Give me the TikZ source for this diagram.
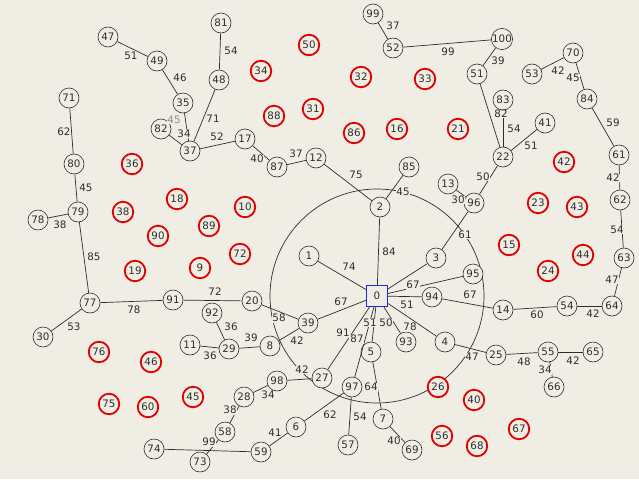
\documentclass[tikz,border=0pt]{standalone}
\usepackage{fontspec}
\setmainfont{DejaVu Sans}
\definecolor{bg}{RGB}{239,237,228}
\definecolor{ln}{RGB}{45,45,45}
\definecolor{rd}{RGB}{225,0,0}
\definecolor{bl}{RGB}{40,40,210}
\tikzset{
 fnt/.style={font=\fontsize{10.3}{12}\selectfont},
 bn/.style={circle, draw=ln, line width=0.6pt, fill=bg, minimum size=20pt, inner sep=0pt, fnt, text=ln},
 rn/.style={circle, draw=rd, line width=1.8pt, fill=bg, minimum size=20.5pt, inner sep=0pt, fnt, text=ln},
 sq/.style={rectangle, draw=bl, line width=1.3pt, fill=bg, minimum size=21pt, inner sep=0pt, fnt, text=ln},
 edge/.style={draw=ln, line width=0.7pt},
 lab/.style={fill=bg, inner sep=0.6pt, fnt, text=ln},
 ring/.style={draw=ln, line width=0.7pt},
}
\newcommand\bnd[3]{\node[bn] (n#1) at (#2,#3) {#1};}
\newcommand\rnd[3]{\node[rn] (n#1) at (#2,#3) {#1};}
\newcommand\ed[2]{\draw[edge] (n#1) -- (n#2);}
\newcommand\lb[4]{\node[lab] (l#1) at (#2,#3) {#4};}
\begin{document}
\begin{tikzpicture}[x=1pt,y=-1pt]
\fill[bg] (0,0) rectangle (639,479);
\useasboundingbox (0,0) rectangle (639,479);
\coordinate (c0) at (377,296);
\draw[ring] (c0) circle[radius=107];
\node[sq] (n0) at (377,296) {0};
\bnd{1}{309}{256}
\bnd{2}{380}{207}
\bnd{3}{436}{258}
\bnd{4}{445}{342}
\bnd{5}{371}{352}
\bnd{6}{296}{427}
\bnd{7}{383}{419}
\bnd{8}{270}{346}
\bnd{11}{190}{345}
\bnd{12}{316}{158}
\bnd{13}{448}{184}
\bnd{14}{503}{310}
\bnd{17}{245}{139}
\bnd{20}{252}{301}
\bnd{22}{503}{157}
\bnd{25}{496}{355}
\bnd{27}{322}{378}
\bnd{28}{244}{397}
\bnd{29}{229}{349}
\bnd{30}{43}{337}
\bnd{35}{183}{103}
\bnd{37}{190}{151}
\bnd{39}{308}{323}
\bnd{41}{545}{123}
\bnd{47}{108}{37}
\bnd{48}{219}{80}
\bnd{49}{157}{61}
\bnd{51}{477}{74}
\bnd{52}{393}{48}
\bnd{53}{532}{74}
\bnd{54}{567}{306}
\bnd{55}{548}{352}
\bnd{57}{348}{445}
\bnd{58}{225}{432}
\bnd{59}{261}{452}
\bnd{61}{619}{155}
\bnd{62}{620}{200}
\bnd{63}{624}{258}
\bnd{64}{612}{306}
\bnd{65}{593}{352}
\bnd{66}{554}{387}
\bnd{69}{412}{450}
\bnd{70}{573}{53}
\bnd{71}{69}{98}
\bnd{73}{200}{462}
\bnd{74}{154}{449}
\bnd{77}{90}{303}
\bnd{78}{38}{220}
\bnd{79}{78}{212}
\bnd{80}{74}{164}
\bnd{81}{221}{23}
\bnd{82}{161}{129}
\bnd{83}{503}{100}
\bnd{84}{587}{99}
\bnd{85}{409}{167}
\bnd{87}{277}{167}
\bnd{91}{173}{300}
\bnd{92}{212}{313}
\bnd{93}{406}{342}
\bnd{94}{432}{297}
\bnd{95}{473}{274}
\bnd{96}{474}{203}
\bnd{97}{352}{387}
\bnd{98}{277}{381}
\bnd{99}{373}{14}
\bnd{100}{502}{39}
% red nodes
\rnd{50}{309}{45}
\rnd{34}{261}{71}
\rnd{32}{361}{77}
\rnd{33}{425}{79}
\rnd{88}{274}{116}
\rnd{31}{313}{109}
\rnd{86}{354}{133}
\rnd{16}{397}{129}
\rnd{21}{458}{129}
\rnd{36}{132}{164}
\rnd{18}{177}{199}
\rnd{38}{123}{212}
\rnd{10}{245}{207}
\rnd{89}{209}{226}
\rnd{90}{158}{236}
\rnd{72}{240}{254}
\rnd{19}{135}{271}
\rnd{9}{200}{268}
\rnd{42}{564}{162}
\rnd{23}{538}{203}
\rnd{43}{577}{207}
\rnd{15}{509}{245}
\rnd{24}{548}{271}
\rnd{44}{583}{255}
\rnd{76}{99}{352}
\rnd{46}{151}{362}
\rnd{75}{109}{404}
\rnd{60}{148}{407}
\rnd{45}{193}{397}
\rnd{26}{438}{387}
\rnd{40}{474}{400}
\rnd{56}{442}{436}
\rnd{68}{477}{446}
\rnd{67}{519}{429}
% edges
\ed{47}{49}\ed{49}{35}\ed{35}{37}\ed{82}{37}\ed{37}{48}\ed{48}{81}
\ed{37}{17}\ed{17}{87}\ed{87}{12}\ed{12}{2}\ed{2}{85}\ed{2}{0}\ed{1}{0}
\ed{71}{80}\ed{80}{79}\ed{79}{78}\ed{79}{77}\ed{77}{30}\ed{77}{91}
\ed{91}{20}\ed{20}{39}\ed{39}{0}\ed{39}{8}\ed{8}{29}\ed{29}{92}\ed{29}{11}
\ed{0}{27}\ed{27}{98}\ed{98}{28}\ed{28}{58}\ed{58}{73}\ed{74}{59}\ed{59}{6}
\ed{6}{97}\ed{0}{97}\ed{0}{5}\ed{5}{7}\ed{97}{57}\ed{7}{69}
\ed{0}{93}\ed{0}{4}\ed{0}{94}\ed{4}{25}\ed{25}{55}\ed{55}{65}\ed{55}{66}
\ed{0}{3}\ed{3}{96}\ed{96}{13}\ed{96}{22}\ed{22}{83}\ed{22}{51}\ed{22}{41}
\ed{51}{100}\ed{100}{52}\ed{52}{99}\ed{0}{95}\ed{94}{14}\ed{14}{54}
\ed{54}{64}\ed{64}{63}\ed{63}{62}\ed{62}{61}\ed{61}{84}\ed{84}{70}\ed{70}{53}
% labels
\lb{a1}{131}{56}{51}
\lb{a2}{180}{78}{46}
\lb{a3x}{174}{120}{\textcolor{ln!55}{45}}
\lb{a3}{184}{134}{34}
\lb{a4}{213}{119}{71}
\lb{a5}{231}{51}{54}
\lb{a6}{217}{137}{52}
\lb{a7}{257}{159}{40}
\lb{a8}{296}{154}{37}
\lb{a9}{356}{175}{75}
\lb{a10}{403}{192}{45}
\lb{a11}{389}{252}{84}
\lb{a12}{349}{267}{74}
\lb{a13}{64}{132}{62}
\lb{a14}{86}{188}{45}
\lb{a15}{60}{225}{38}
\lb{a16}{94}{257}{85}
\lb{a17}{74}{327}{53}
\lb{a18}{134}{310}{78}
\lb{a19}{215}{292}{72}
\lb{a20}{279}{318}{58}
\lb{a21}{341}{302}{67}
\lb{a22}{297}{341}{42}
\lb{a23}{251}{338}{39}
\lb{a24}{231}{327}{36}
\lb{a25}{210}{356}{36}
\lb{a26}{343}{333}{91}
\lb{a27}{302}{370}{42}
\lb{a28}{268}{395}{34}
\lb{a29}{230}{410}{38}
\lb{a30}{209}{442}{99}
\lb{a31}{275}{433}{41}
\lb{a32}{330}{415}{62}
\lb{a33}{357}{339}{87}
\lb{a34}{370}{323}{51}
\lb{a35}{371}{387}{64}
\lb{a36}{360}{417}{54}
\lb{a37}{394}{441}{40}
\lb{a38}{386}{323}{50}
\lb{a39}{410}{327}{78}
\lb{a40}{407}{305}{51}
\lb{a41}{472}{357}{47}
\lb{a42}{524}{362}{48}
\lb{a43}{573}{361}{42}
\lb{a44}{545}{370}{34}
\lb{a45}{465}{235}{61}
\lb{a46}{458}{200}{30}
\lb{a47}{483}{177}{50}
\lb{a48}{501}{114}{82}
\lb{a49}{514}{129}{54}
\lb{a50}{531}{146}{51}
\lb{a51}{498}{61}{39}
\lb{a52}{448}{52}{99}
\lb{a53}{393}{26}{37}
\lb{a54}{413}{285}{67}
\lb{a55}{470}{295}{67}
\lb{a56}{537}{315}{60}
\lb{a57}{593}{314}{42}
\lb{a58}{612}{280}{47}
\lb{a59}{617}{230}{54}
\lb{a60}{613}{178}{42}
\lb{a61}{613}{123}{59}
\lb{a62}{573}{78}{45}
\lb{a63}{558}{71}{42}
\end{tikzpicture}
\end{document}
